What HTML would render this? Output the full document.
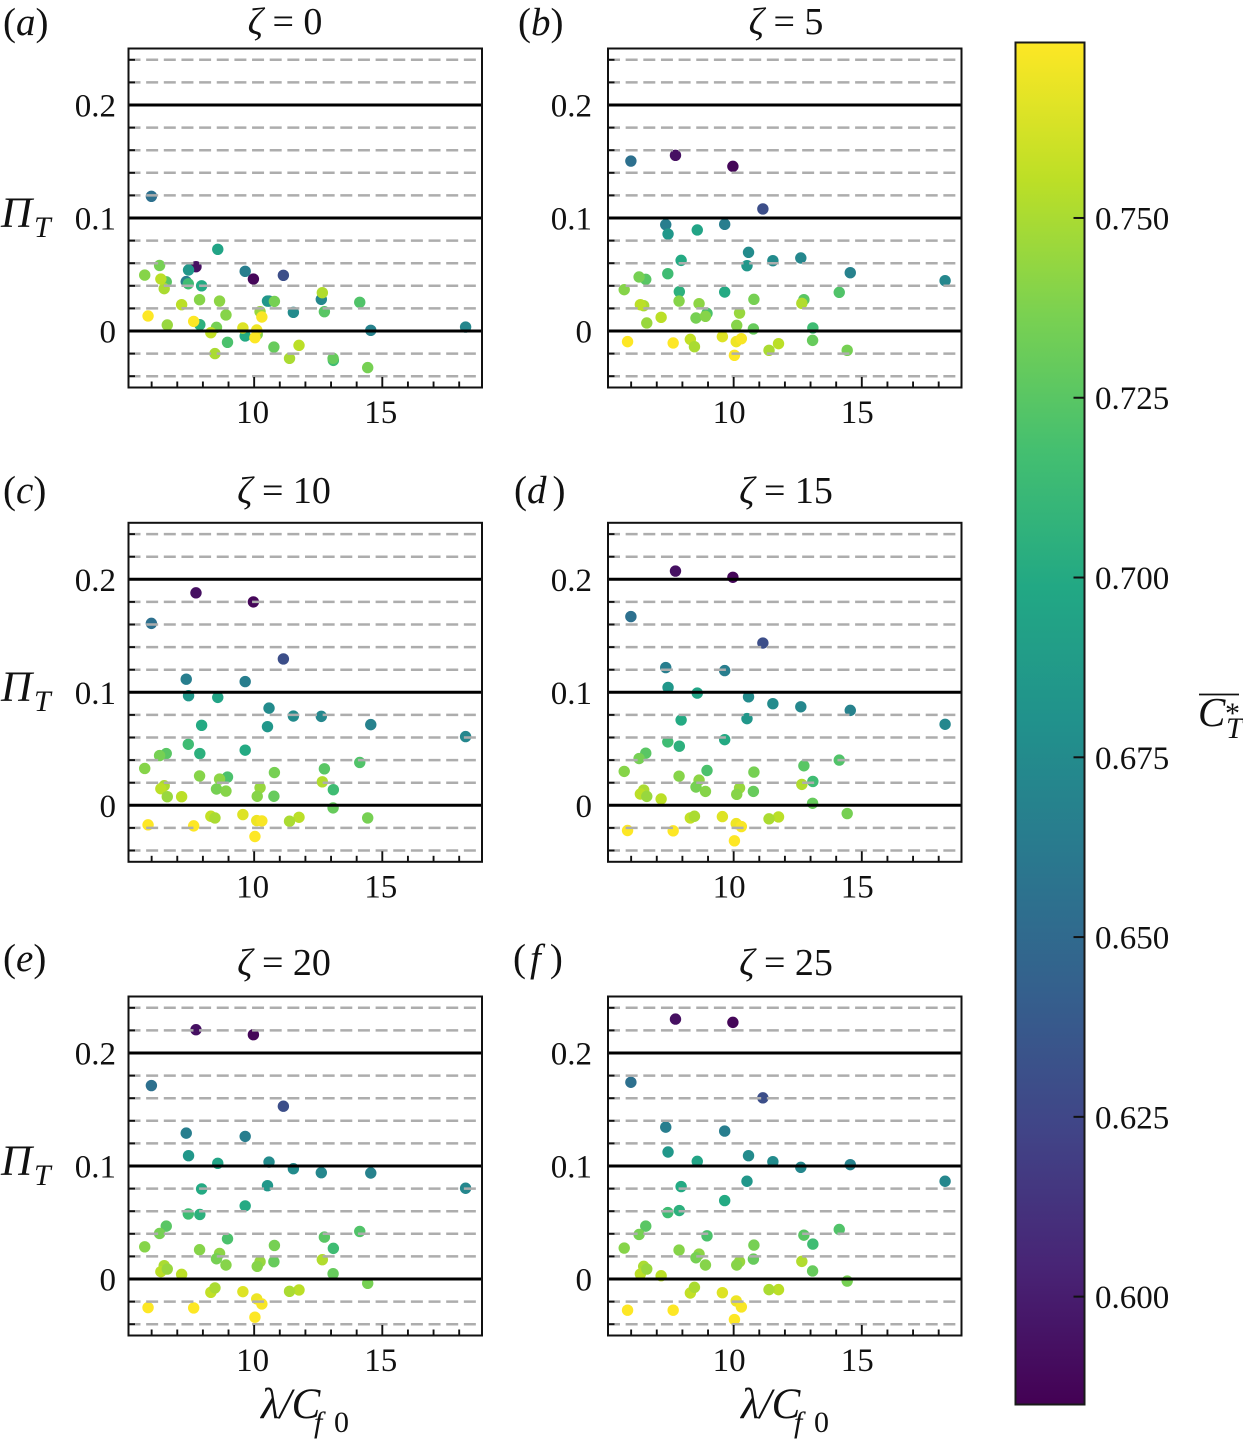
<!DOCTYPE html>
<html lang="en">
<head>
<meta charset="utf-8">
<title>Pi_T versus lambda/Cf0 for six zeta values</title>
<style>
  html, body { margin: 0; padding: 0; background: #fff; }
  svg { display: block; filter: blur(0.35px); }
  text { font-family: "Liberation Serif", "DejaVu Serif", serif; fill: #111; }
  .it { font-style: italic; }
</style>
</head>
<body>
<svg id="figure" xmlns="http://www.w3.org/2000/svg" width="1243" height="1444" viewBox="0 0 1243 1444">
  <defs>
    <linearGradient id="viridis-gradient" x1="0" y1="1" x2="0" y2="0"></linearGradient>
  </defs>
  <rect x="0" y="0" width="1243" height="1444" fill="#fff"/>
  <g id="panels"></g>

  <text x="3" y="35" font-size="39">(<tspan class="it">a</tspan>)</text>
  <text x="518" y="35" font-size="39">(<tspan class="it">b</tspan>)</text>
  <text x="3" y="503" font-size="39">(<tspan class="it">c</tspan>)</text>
  <text x="514" y="503" font-size="39">(<tspan class="it">d</tspan><tspan dx="6">)</tspan></text>
  <text x="3" y="971" font-size="39">(<tspan class="it">e</tspan>)</text>
  <text x="513" y="971" font-size="39">(<tspan class="it" dx="4">f</tspan><tspan dx="9">)</tspan></text>

  <text x="285" y="34" font-size="38" text-anchor="middle"><tspan class="it">ζ</tspan> = 0</text>
  <text x="786" y="34" font-size="38" text-anchor="middle"><tspan class="it">ζ</tspan> = 5</text>
  <text x="284" y="503" font-size="38" text-anchor="middle"><tspan class="it">ζ</tspan> = 10</text>
  <text x="786" y="503" font-size="38" text-anchor="middle"><tspan class="it">ζ</tspan> = 15</text>
  <text x="284" y="975" font-size="38" text-anchor="middle"><tspan class="it">ζ</tspan> = 20</text>
  <text x="786" y="975" font-size="38" text-anchor="middle"><tspan class="it">ζ</tspan> = 25</text>

  <g><text class="it" x="1" y="227" font-size="43">Π</text><text class="it" x="34" y="237" font-size="30">T</text></g>
  <g><text class="it" x="1" y="701" font-size="43">Π</text><text class="it" x="34" y="711" font-size="30">T</text></g>
  <g><text class="it" x="1" y="1175" font-size="43">Π</text><text class="it" x="34" y="1185" font-size="30">T</text></g>

  <g><text class="it" x="261" y="1418" font-size="43">λ/C</text><text class="it" x="314" y="1432" font-size="30">f</text><text x="334" y="1432" font-size="30">0</text></g>
  <g><text class="it" x="741" y="1418" font-size="43">λ/C</text><text class="it" x="794" y="1432" font-size="30">f</text><text x="814" y="1432" font-size="30">0</text></g>

  <g id="colorbar"></g>
  <g>
    <line x1="1199" x2="1239" y1="694.5" y2="694.5" stroke="#111" stroke-width="1.8"/>
    <text class="it" x="1198" y="726" font-size="41">C</text>
    <text x="1225" y="723" font-size="30">*</text>
    <text class="it" x="1226" y="738" font-size="30">T</text>
  </g>
</svg>

<script>
// ---- chart data ----
const lambdaValues = [5.99,7.73,9.97,11.14,7.35,9.65,7.44,8.58,10.58,11.53,12.62,14.55,18.25,7.95,10.52,7.43,9.65,7.88,6.57,6.31,5.73,14.12,12.74,10.79,7.87,8.96,8.65,12.66,6.49,6.36,8.53,8.9,10.23,13.09,10.12,10.77,6.61,7.17,13.08,9.56,8.31,8.47,11.75,11.38,14.43,10.1,10.3,5.86,7.64,10.03];
const colorValues = [0.655,0.593,0.588,0.63,0.665,0.665,0.685,0.695,0.675,0.675,0.672,0.668,0.672,0.7,0.685,0.715,0.7,0.705,0.725,0.735,0.74,0.722,0.725,0.735,0.74,0.72,0.742,0.752,0.75,0.755,0.735,0.74,0.745,0.715,0.74,0.73,0.745,0.755,0.73,0.765,0.757,0.75,0.755,0.75,0.735,0.77,0.773,0.775,0.775,0.775];
const piZeta0 = [0.1192,0.0569,0.046,0.0493,0.0437,0.0528,0.054,0.0723,0.0265,0.0165,0.028,0.0006,0.0035,0.04,0.0265,0.0418,-0.0044,0.0056,0.0435,0.058,0.0495,0.0254,0.0171,0.0262,0.0277,-0.01,0.0265,0.0339,0.0375,0.046,0.0032,0.0142,0.0171,-0.026,-0.003,-0.0142,0.0053,0.0233,-0.0242,0.0027,-0.0015,-0.02,-0.0127,-0.0242,-0.0324,0.0009,0.0124,0.0133,0.0085,-0.0059];
const piZeta5 = [0.1504,0.1555,0.1457,0.108,0.0941,0.0944,0.0858,0.0894,0.0696,0.0622,0.0646,0.0516,0.0445,0.0625,0.0578,0.0507,0.0345,0.0348,0.0457,0.0478,0.0366,0.0342,0.0277,0.028,0.0265,0.0156,0.0242,0.0245,0.0224,0.0233,0.0115,0.013,0.0159,0.0027,0.005,0.0018,0.0071,0.0121,-0.0083,-0.005,-0.0074,-0.0139,-0.0112,-0.0171,-0.0171,-0.0094,-0.0068,-0.0094,-0.0106,-0.0215];
const piZeta10 = [0.161,0.188,0.18,0.1295,0.1116,0.1095,0.097,0.0955,0.086,0.079,0.0787,0.0714,0.0608,0.0708,0.0696,0.054,0.0488,0.0458,0.0458,0.044,0.0326,0.0379,0.0323,0.029,0.026,0.025,0.0232,0.0208,0.0173,0.0147,0.0144,0.0126,0.0156,0.0138,0.008,0.008,0.0076,0.0076,-0.0023,-0.0082,-0.0097,-0.0112,-0.0106,-0.0141,-0.0112,-0.0135,-0.0138,-0.0173,-0.0182,-0.0276];
const piZeta15 = [0.167,0.2073,0.2018,0.1436,0.1219,0.1192,0.1043,0.0993,0.096,0.0899,0.0872,0.084,0.0717,0.0755,0.0767,0.0561,0.0581,0.0523,0.0461,0.0414,0.03,0.04,0.035,0.0294,0.0258,0.0308,0.0223,0.0185,0.0135,0.01,0.0162,0.0123,0.0153,0.0211,0.0097,0.0123,0.0079,0.0056,0.0018,-0.01,-0.0112,-0.0097,-0.0103,-0.012,-0.0073,-0.0162,-0.0188,-0.0223,-0.0226,-0.0314];
const piZeta20 = [0.1712,0.2206,0.2162,0.1529,0.1291,0.1262,0.1091,0.1024,0.1035,0.0976,0.0941,0.0938,0.0803,0.0797,0.0826,0.0576,0.0647,0.0571,0.0468,0.0403,0.0285,0.0421,0.0371,0.0297,0.0259,0.0356,0.0226,0.0171,0.0118,0.0065,0.0179,0.0124,0.0153,0.0271,0.0112,0.0153,0.0088,0.0041,0.0047,-0.0112,-0.0118,-0.0079,-0.0097,-0.0109,-0.0038,-0.0176,-0.0221,-0.0253,-0.0256,-0.0338];
const piZeta25 = [0.1741,0.23,0.2271,0.1603,0.1344,0.1309,0.1124,0.1041,0.1091,0.1038,0.0988,0.1012,0.0865,0.0818,0.0865,0.0588,0.0694,0.0606,0.0468,0.0394,0.0274,0.0438,0.0388,0.03,0.0256,0.0382,0.0221,0.0156,0.0112,0.0044,0.0188,0.0124,0.0153,0.0309,0.0124,0.0176,0.0088,0.0029,0.0071,-0.0121,-0.0124,-0.0074,-0.0094,-0.0094,-0.0018,-0.0194,-0.0247,-0.0276,-0.0276,-0.0359];
const yMajorTicks = [0, 0.1, 0.2];
const yMajorLabels = ["0", "0.1", "0.2"];
const yMinorTicks = [-0.04, -0.02, 0.02, 0.04, 0.06, 0.08, 0.12, 0.14, 0.16, 0.18, 0.22, 0.24];
const xMajorTicks = [10, 15];
const xMajorLabels = ["10", "15"];
const xTicksAll = [6, 7, 8, 9, 10, 11, 12, 13, 14, 15, 16, 17, 18];
const colorbarTicks = [0.6, 0.625, 0.65, 0.675, 0.7, 0.725, 0.75];
const colorbarLabels = ["0.600", "0.625", "0.650", "0.675", "0.700", "0.725", "0.750"];
const viridisStops = ["#440154","#482475","#414487","#355f8d","#2a788e","#21918c","#22a884","#44bf70","#7ad151","#bddf26","#fde725"];

// ---- axis settings ----
const xMin = 5.097, xMax = 18.89, yMin = -0.05, yMax = 0.25;
const colorMin = 0.585, colorMax = 0.7744;

const NS = "http://www.w3.org/2000/svg";
function make(tag, attrs, parent) {
  const el = document.createElementNS(NS, tag);
  for (const k in attrs) el.setAttribute(k, attrs[k]);
  parent.appendChild(el);
  return el;
}
function hex(c) { return [1, 3, 5].map(i => parseInt(c.substr(i, 2), 16)); }
function colorOf(v) {
  let t = (v - colorMin) / (colorMax - colorMin);
  t = Math.max(0, Math.min(1, t)) * (viridisStops.length - 1);
  const i = Math.min(Math.floor(t), viridisStops.length - 2);
  const a = hex(viridisStops[i]), b = hex(viridisStops[i + 1]), f = t - i;
  return "rgb(" + a.map((x, j) => Math.round(x + (b[j] - x) * f)).join(",") + ")";
}

const panelSeries = [
  { id: "a", values: piZeta0, left: 128.5, top: 48.5, yLabelEnd: 116, xLabelShift: -1.5 },
  { id: "b", values: piZeta5, left: 608, top: 48.5, yLabelEnd: 592, xLabelShift: -4.5 },
  { id: "c", values: piZeta10, left: 128.5, top: 522.8, yLabelEnd: 116, xLabelShift: -1.5 },
  { id: "d", values: piZeta15, left: 608, top: 522.8, yLabelEnd: 592, xLabelShift: -4.5 },
  { id: "e", values: piZeta20, left: 128.5, top: 996.5, yLabelEnd: 116, xLabelShift: -1.5 },
  { id: "f", values: piZeta25, left: 608, top: 996.5, yLabelEnd: 592, xLabelShift: -4.5 }
];
const panelWidth = 353.5, panelHeight = 339;
const root = document.getElementById("panels");

panelSeries.forEach(function (p) {
  const xScale = v => p.left + (v - xMin) / (xMax - xMin) * panelWidth;
  const yScale = v => p.top + (yMax - v) / (yMax - yMin) * panelHeight;
  const right = p.left + panelWidth, bottom = p.top + panelHeight;

  const g = make("g", {}, root);
  
  

  p.values.forEach(function (v, i) {
    const pt = make("circle", { cx: xScale(lambdaValues[i]), cy: yScale(v), r: 5.7, fill: colorOf(colorValues[i]) }, g);
    
    
  });

  yMinorTicks.forEach(function (v) {
    const y = yScale(v);
    const grid = make("line", { x1: p.left, x2: right, y1: y, y2: y, stroke: "#adadad", "stroke-width": 2.5, "stroke-dasharray": "12 5.65" }, g);
    
    
    const tick = make("line", { x1: p.left, x2: p.left + 6.5, y1: y, y2: y, stroke: "#111", "stroke-width": 1.9 }, g);
    
    
  });

  yMajorTicks.forEach(function (v, i) {
    const y = yScale(v);
    const line = make("line", { x1: p.left, x2: right, y1: y, y2: y, stroke: "#000", "stroke-width": 3 }, g);
    
    
    const label = make("text", { x: p.yLabelEnd, y: y + 11.5, "font-size": 33, "text-anchor": "end" }, g);
    label.textContent = yMajorLabels[i];
    
    
  });

  xTicksAll.forEach(function (v) {
    const x = xScale(v);
    const len = xMajorTicks.indexOf(v) >= 0 ? 10.5 : 6;
    const tick = make("line", { x1: x, x2: x, y1: bottom, y2: bottom - len, stroke: "#111", "stroke-width": 1.9 }, g);
    
    
  });

  xMajorTicks.forEach(function (v, i) {
    const label = make("text", { x: xScale(v) + p.xLabelShift, y: bottom + 35.5, "font-size": 33, "text-anchor": "middle" }, g);
    label.textContent = xMajorLabels[i];
    
    
  });

  const frame = make("rect", { x: p.left, y: p.top, width: panelWidth, height: panelHeight, fill: "none", stroke: "#111", "stroke-width": 2 }, g);
  
  
});

// ---- colorbar ----
const gradient = document.getElementById("viridis-gradient");
viridisStops.forEach(function (c, i) {
  make("stop", { offset: i / (viridisStops.length - 1), "stop-color": c }, gradient);
});
const cbar = document.getElementById("colorbar");
const cbLeft = 1015.5, cbRight = 1084.5, cbTop = 42.5, cbBottom = 1404.5;
const cbScale = v => cbBottom - (v - colorMin) / (colorMax - colorMin) * (cbBottom - cbTop);
const cbRect = make("rect", { x: cbLeft, y: cbTop, width: cbRight - cbLeft, height: cbBottom - cbTop, fill: "url(#viridis-gradient)", stroke: "#1a1a1a", "stroke-width": 2 }, cbar);


colorbarTicks.forEach(function (v, i) {
  const y = cbScale(v);
  const tick = make("line", { x1: cbRight - 11, x2: cbRight, y1: y, y2: y, stroke: "#111", "stroke-width": 2 }, cbar);
  
  
  const label = make("text", { x: 1095, y: y + 11.5, "font-size": 33 }, cbar);
  label.textContent = colorbarLabels[i];
  
  
});
</script>
</body>
</html>
